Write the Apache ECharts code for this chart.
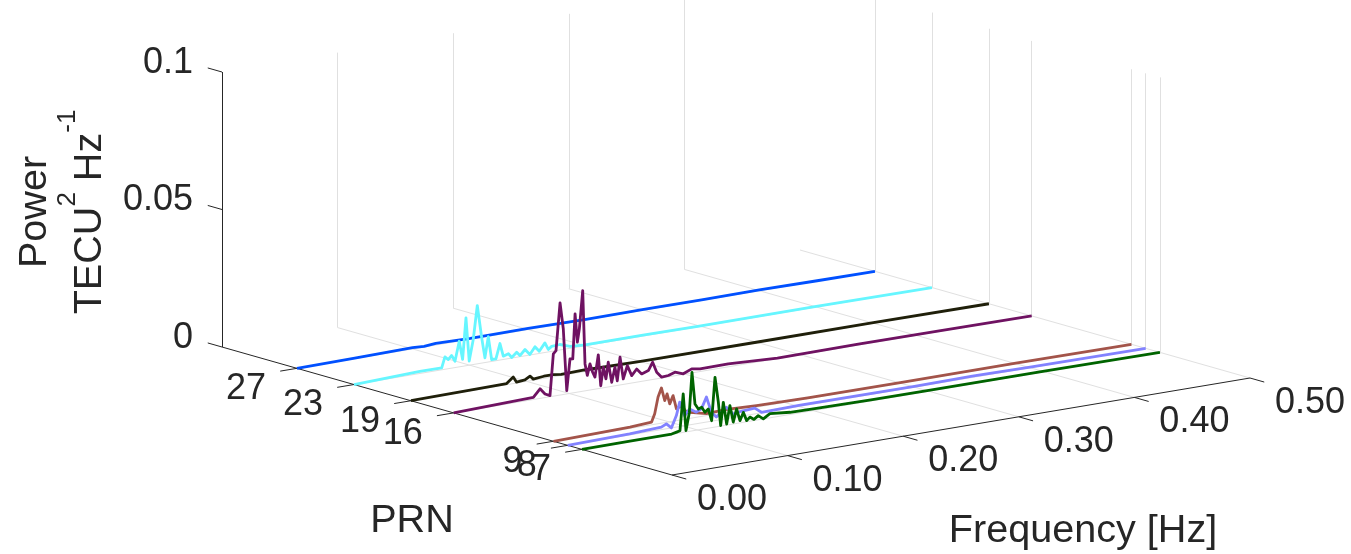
<!DOCTYPE html>
<html>
<head>
<meta charset="utf-8">
<style>
html,body{margin:0;padding:0;background:#ffffff;}
#chart{width:1351px;height:554px;}
</style>
<script src="https://cdn.jsdelivr.net/npm/echarts@6/dist/echarts.min.js"></script>
</head>
<body>
<div id="chart"></div>
<script>
// ---------------- data ----------------
const freqTicks = [0, 0.1, 0.2, 0.3, 0.4, 0.5];
const freqTickLabels = ['0.00', '0.10', '0.20', '0.30', '0.40', '0.50'];
const prnTicks = [27, 23, 19, 16, 9, 8, 7];
const prnTickLabels = ['27', '23', '19', '16', '9', '8', '7'];
const powerTicks = [0, 0.05, 0.1];
const powerTickLabels = ['0', '0.05', '0.1'];

const freqLimits = [0, 0.5];
const prnLimits = [0.68, 32.26];
const powerLimits = [0, 0.1];

const prnOrder = [27, 23, 19, 16, 9, 8, 7];

// [frequency Hz, power TECU^2/Hz]
const prn27 = [[0,0],[0.05,0.0002],[0.1,0.0005],[0.11,0.0002],[0.12,0.0006],[0.15,0.0003],[0.2,0.0004],[0.25,0.0002],[0.3,0.0003],[0.35,0.0002],[0.4,0.0003],[0.45,0.0001],[0.5,0]];
const prn23 = [[0,0],[0.057,0.0008],[0.0759,0.0007],[0.0787,0.0045],[0.0816,0.0033],[0.0845,0.0046],[0.0874,0.0023],[0.0911,0.0093],[0.094,0.0025],[0.0969,0.0174],[0.0997,0.0015],[0.1032,0.0091],[0.1067,0.0212],[0.1105,0.0092],[0.1133,0.0017],[0.1162,0.0092],[0.1191,0.0007],[0.1228,0.0007],[0.1263,0.006],[0.1292,0.0012],[0.1336,0.0018],[0.1365,0.0002],[0.1408,0.0018],[0.1436,0.0004],[0.148,0.0023],[0.1522,0.0002],[0.1566,0.0027],[0.1603,0.0008],[0.1652,0.0035],[0.1681,0.0009],[0.171,0.0018],[0.178,0.002],[0.187,0.0007],[0.2,0.0003],[0.25,0.0003],[0.3,0.0002],[0.4,0.0002],[0.5,0]];
const prn19 = [[0,0],[0.05,0.0002],[0.0828,0.0004],[0.0885,0.0024],[0.0914,0.0003],[0.0986,0.0006],[0.103,0.0017],[0.1058,0.0004],[0.115,0.0008],[0.1231,0.0008],[0.13,0.0004],[0.15,0.0006],[0.2,0.0003],[0.3,0.0002],[0.4,0.0002],[0.5,0]];
const prn16 = [[0,0],[0.0689,0.0008],[0.0747,0.0035],[0.079,0.0013],[0.0833,0.0004],[0.0862,0.0154],[0.0885,0.0164],[0.092,0.0335],[0.0948,0.0239],[0.0978,0.0012],[0.1006,0.0125],[0.103,0.0124],[0.105,0.0286],[0.107,0.0182],[0.1087,0.0229],[0.1116,0.0366],[0.1136,0.0098],[0.1156,0.0055],[0.1179,0.0095],[0.1202,0.0063],[0.1222,0.0044],[0.1251,0.0123],[0.1272,0.0009],[0.1294,0.0075],[0.1317,0.0031],[0.1337,0.009],[0.1367,0.0015],[0.1395,0.0068],[0.1415,0.0017],[0.1439,0.0101],[0.1467,0.002],[0.1502,0.0066],[0.154,0.0027],[0.1583,0.0048],[0.1626,0.0027],[0.1684,0.0035],[0.1721,0.0063],[0.1756,0.0024],[0.1799,0.0003],[0.1857,0.0005],[0.1914,0.0013],[0.1986,0.0002],[0.2059,0.0015],[0.2131,0.001],[0.2375,0.0011],[0.28,0.0002],[0.35,0.0003],[0.42,0.0002],[0.5,0]];
const prn9 = [[0,0],[0.0662,0.0005],[0.0849,0.001],[0.0876,0.0038],[0.0905,0.0097],[0.0934,0.0128],[0.0963,0.008],[0.0983,0.0103],[0.1006,0.0065],[0.1035,0.0093],[0.1064,0.0043],[0.1107,0.0052],[0.1151,0.0025],[0.1324,0.0007],[0.15,0.001],[0.1757,0.0006],[0.22,0.0003],[0.3,0.0002],[0.4,0.0002],[0.5,0]];
const prn8 = [[0,0],[0.0536,0.0004],[0.081,0.0009],[0.0854,0.0018],[0.0897,0],[0.094,0.0042],[0.0969,0.0089],[0.1012,0.0036],[0.1055,0.0058],[0.1113,0.0042],[0.1157,0.0051],[0.12,0.0091],[0.1243,0.0033],[0.1286,0.0012],[0.1373,0.0042],[0.1431,0.0013],[0.15,0.0018],[0.1618,0.0021],[0.1676,0.0002],[0.2,0.0004],[0.3,0.0003],[0.35,0.0005],[0.4,0.0002],[0.5,0]];
const prn7 = [[0,0],[0.0415,0.0001],[0.0776,0.0001],[0.0819,0.0005],[0.0848,0.0008],[0.0876,0.014],[0.09,0.0005],[0.0929,0.0069],[0.0952,0.0213],[0.0978,0.0096],[0.1007,0.0076],[0.1036,0.008],[0.1064,0.006],[0.1093,0.007],[0.1122,0.0025],[0.1151,0.0181],[0.118,0.0088],[0.12,0.0002],[0.1223,0.0085],[0.1252,0.0004],[0.128,0.0069],[0.1309,0.0007],[0.1338,0.0053],[0.1367,0.0008],[0.1396,0.0036],[0.1425,0.0004],[0.1453,0.0015],[0.1488,0.0004],[0.1525,0.0015],[0.1569,0],[0.1626,0.0015],[0.18,0.0008],[0.2,0.0006],[0.25,0.0004],[0.3,0.0003],[0.4,0.0002],[0.5,0]];

// ---------------- styling / layout ----------------
const seriesValues = {27: prn27, 23: prn23, 19: prn19, 16: prn16, 9: prn9, 8: prn8, 7: prn7};
const seriesColors = {27: '#0050ff', 23: '#66f6ff', 19: '#1f1f0a', 16: '#6f1262', 9: '#a3544a', 8: '#8282ff', 7: '#006400'};

const W = 1351, H = 554;
const FONT = "'Liberation Sans', Arial, Helvetica, sans-serif";
const AX = '#262626';
const GRIDC = '#e0e0e0';

// oblique (orthographic) 3D box placement on the page
const ORIGIN = [672, 475];      // (freq min, PRN min, power min)
const FREQ_VEC = [578, -97];    // full frequency range
const PRN_VEC = [-450, -128];   // full PRN range
const POW_VEC = [0, -275];      // full power range

function proj(f, p, z) {
  const u = (f - freqLimits[0]) / (freqLimits[1] - freqLimits[0]);
  const v = (p - prnLimits[0]) / (prnLimits[1] - prnLimits[0]);
  const w = (z - powerLimits[0]) / (powerLimits[1] - powerLimits[0]);
  return [ORIGIN[0] + u * FREQ_VEC[0] + v * PRN_VEC[0] + w * POW_VEC[0],
          ORIGIN[1] + u * FREQ_VEC[1] + v * PRN_VEC[1] + w * POW_VEC[1]];
}

const F0 = freqLimits[0], F1 = freqLimits[1];
const P0 = prnLimits[0], P1 = prnLimits[1];
const Z0 = powerLimits[0], Z1 = powerLimits[1];

// grid lines (floor + back walls)
const gridSegs = [];
freqTicks.forEach(f => {
  if (f > F0) gridSegs.push({coords: [proj(f, P0, Z0), proj(f, P1, Z0)]});
  if (f > F0 && f < F1) gridSegs.push({coords: [proj(f, P1, Z0), proj(f, P1, Z1)]});
});
prnTicks.forEach(p => {
  gridSegs.push({coords: [proj(F0, p, Z0), proj(F1, p, Z0)]});
  gridSegs.push({coords: [proj(F1, p, Z0), proj(F1, p, Z1)]});
});

// axes + ticks
const axisSegs = [
  {coords: [proj(F0, P1, Z0), proj(F0, P1, Z1)]},
  {coords: [proj(F0, P0, Z0), proj(F0, P1, Z0)]},
  {coords: [proj(F0, P0, Z0), proj(F1, P0, Z0)]}
];
powerTicks.forEach(z => axisSegs.push({coords: [proj(F0, P1, z), proj(F0, P1 + 1.0, z)]}));
prnTicks.forEach(p => axisSegs.push({coords: [proj(F0, p, Z0), proj(F0 - 0.0145, p, Z0)]}));
freqTicks.forEach(f => axisSegs.push({coords: [proj(f, P0, Z0), proj(f, P0 - 1.0, Z0)]}));

const series = [];
series.push({
  type: 'lines', coordinateSystem: 'cartesian2d', polyline: false, silent: true, z: 1,
  lineStyle: {color: GRIDC, width: 1, opacity: 1}, data: gridSegs
});
series.push({
  type: 'lines', coordinateSystem: 'cartesian2d', polyline: false, silent: true, z: 2,
  lineStyle: {color: AX, width: 1, opacity: 1}, data: axisSegs
});

prnOrder.forEach(p => {
  series.push({
    type: 'line', name: 'PRN ' + p, z: 3, showSymbol: false, symbol: 'none', clip: false,
    lineStyle: {color: seriesColors[p], width: 2.8, join: 'round'},
    data: seriesValues[p].map(d => proj(d[0], p, d[1]))
  });
});

function labelSeries(points, texts, align, offset) {
  return {
    type: 'custom', coordinateSystem: 'cartesian2d', silent: true, z: 4, clip: false,
    data: points,
    renderItem: function (params, api) {
      const pt = api.coord([api.value(0), api.value(1)]);
      return {
        type: 'text', x: pt[0] + offset[0], y: pt[1] + offset[1],
        style: {text: texts[params.dataIndex], fontSize: 36, fontFamily: FONT, fill: AX,
                align: align, verticalAlign: 'middle'}
      };
    }
  };
}
series.push(labelSeries(powerTicks.map(z => proj(F0, P1, z)), powerTickLabels, 'right', [-29, -9]));
series.push(labelSeries(prnTicks.map(p => proj(F0, p, Z0)), prnTickLabels, 'right', [-31, 21]));
series.push(labelSeries(freqTicks.map(f => proj(f, P0, Z0)), freqTickLabels, 'center', [60, 25]));

const option = {
  animation: false,
  backgroundColor: '#ffffff',
  grid: {left: 0, right: 0, top: 0, bottom: 0},
  xAxis: {type: 'value', min: 0, max: W, show: false},
  yAxis: {type: 'value', min: 0, max: H, inverse: true, show: false},
  series: series,
  graphic: [
    {type: 'text', x: 1083, y: 531, style: {text: 'Frequency [Hz]', fontSize: 39.6, fontFamily: FONT, fill: AX, align: 'center', verticalAlign: 'middle'}},
    {type: 'text', x: 412, y: 521, style: {text: 'PRN', fontSize: 39.6, fontFamily: FONT, fill: AX, align: 'center', verticalAlign: 'middle'}},
    {type: 'text', x: 55, y: 212, rotation: Math.PI / 2,
     style: {text: '{m|Power}\n{m|TECU}{s|2}{m| Hz}{s|-1}', align: 'center', verticalAlign: 'middle', fill: AX,
             rich: {m: {fontSize: 39.6, fontFamily: FONT, fill: AX, lineHeight: 55, verticalAlign: 'bottom'},
                    s: {fontSize: 26, fontFamily: FONT, fill: AX, lineHeight: 30, verticalAlign: 'top'}}}}
  ]
};

const chart = echarts.init(document.getElementById('chart'), null, {renderer: 'canvas', width: W, height: H});
chart.setOption(option);
</script>
</body>
</html>
